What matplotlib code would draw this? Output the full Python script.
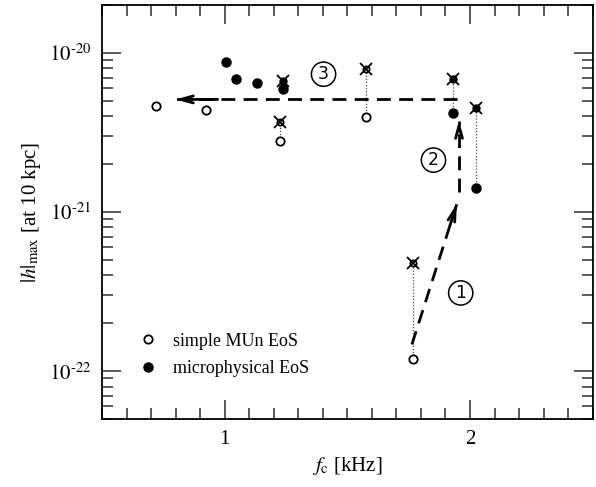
import matplotlib
matplotlib.use("Agg")
import matplotlib.pyplot as plt
import numpy as np

plt.rcParams['font.family'] = ['Liberation Serif', 'DejaVu Serif']
plt.rcParams['mathtext.fontset'] = 'stix'

# simple MUn EoS (open circles)
f_open = [0.722, 0.925, 1.227, 1.577, 1.767]
h_open = [4.63e-21, 4.35e-21, 2.81e-21, 3.94e-21, 1.20e-22]
# microphysical EoS (filled circles)
f_fill = [1.007, 1.048, 1.132, 1.238, 1.930, 2.024]
h_fill = [8.74e-21, 6.87e-21, 6.51e-21, 5.89e-21, 4.22e-21, 1.41e-21]
# crossed points (upper end of the dotted connections)
f_xopen = [1.227, 1.577, 1.767]
h_xopen = [3.68e-21, 7.90e-21, 4.79e-22]
f_xfill = [1.238, 1.930, 2.024]
h_xfill = [6.67e-21, 6.87e-21, 4.48e-21]
# dotted links: (f, h_low, h_high)
links = [(1.227, 2.81e-21, 3.68e-21), (1.577, 3.94e-21, 7.90e-21),
         (1.767, 1.20e-22, 4.79e-22), (1.238, 5.89e-21, 6.67e-21),
         (1.930, 4.22e-21, 6.87e-21), (2.024, 1.41e-21, 4.48e-21)]
# dashed arrows: start -> tip
arrows = [((1.763, 1.47e-22), (1.946, 1.12e-21)),
          ((1.955, 1.34e-21), (1.955, 3.75e-21)),
          ((1.946, 5.10e-21), (0.800, 5.10e-21))]
labels = [("1", 1.962, 3.1e-22), ("2", 1.851, 2.12e-21), ("3", 1.403, 7.35e-21)]

fig = plt.figure(figsize=(5.96, 4.87), dpi=100)
ax = fig.add_axes([0.1711, 0.1396, 0.8234, 0.8501])
ax.set_yscale('log')
ax.set_xlim(0.5, 2.5)
ax.set_ylim(5e-23, 2e-20)

for f, lo, hi in links:
    ax.plot([f, f], [lo, hi], color='0.3', lw=0.9, ls=(0, (1, 1.5)), zorder=1)

for (x0, y0), (x1, y1) in arrows:
    ax.plot([x0, x1], [y0, y1], color='k', lw=2, ls=(0, (5, 3)), zorder=2)
    xm = x0 + 0.85 * (x1 - x0)
    ym = y0 * (y1 / y0) ** 0.85
    ax.annotate('', xy=(x1, y1), xytext=(xm, ym),
                arrowprops=dict(arrowstyle='->,head_length=0.9,head_width=0.25',
                                color='k', lw=2, shrinkA=0, shrinkB=0), zorder=3)

ax.plot(f_open, h_open, 'o', mfc='white', mec='k', mew=1.3, ms=6, ls='none',
        label='simple MUn EoS', zorder=4)
ax.plot(f_fill, h_fill, 'o', color='k', ms=6.5, ls='none',
        label='microphysical EoS', zorder=4)
ax.plot(f_xopen, h_xopen, 'o', mfc='white', mec='k', mew=1.3, ms=4.5, ls='none', zorder=4)
ax.plot(f_xfill, h_xfill, 'o', color='k', ms=5, ls='none', zorder=4)
ax.plot(f_xopen + f_xfill, h_xopen + h_xfill, 'x', color='k', ms=8, mew=1.3,
        ls='none', zorder=5)

for s, x, y in labels:
    ax.text(x, y, s, family='DejaVu Sans', fontsize=12.5, ha='center', va='center',
            bbox=dict(boxstyle='circle,pad=0.18', fc='white', ec='k', lw=1.1), zorder=6)

ax.set_xticks([1, 2])
ax.set_xticklabels(['1', '2'])
ax.xaxis.set_minor_locator(matplotlib.ticker.MultipleLocator(0.1))
ax.set_yticks([1e-22, 1e-21, 1e-20])
ax.set_yticklabels([r'$10^{\text{-}22}$', r'$10^{\text{-}21}$', r'$10^{\text{-}20}$'])
ax.tick_params(which='both', direction='in', top=True, right=True, labelsize=15,
               width=1.3, color='0.3')
ax.tick_params(which='major', length=14, pad=8)
ax.tick_params(which='minor', length=8)
for sp in ax.spines.values():
    sp.set_linewidth(1.3)

ax.set_xlabel(r'$f_{\mathrm{c}}$ [kHz]', fontsize=15, labelpad=4)
ax.set_ylabel(r'$|h|_{\mathrm{max}}$ [at 10 kpc]', fontsize=15, labelpad=4)

ax.legend(loc='lower left', bbox_to_anchor=(0.064, 0.083), frameon=False, fontsize=13,
          handlelength=0.8, handletextpad=1.0, labelspacing=0.6, borderaxespad=0)

fig.savefig('out.png', dpi=100)
